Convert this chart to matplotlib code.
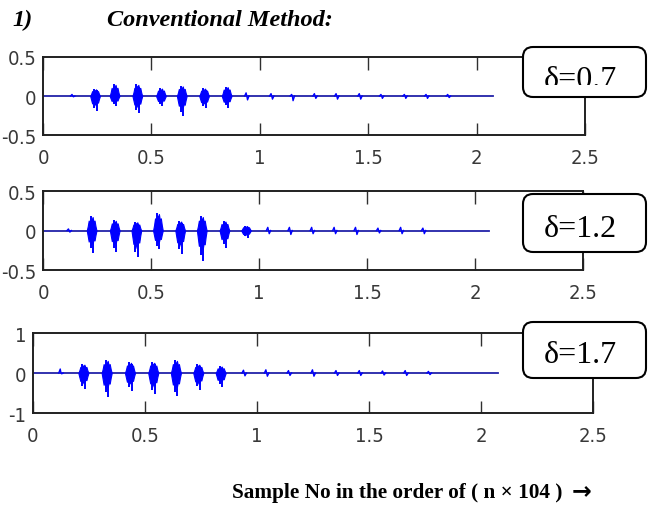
import matplotlib
matplotlib.use("Agg")
import matplotlib.pyplot as plt
import numpy as np
from matplotlib import font_manager
from matplotlib.patches import FancyBboxPatch
from matplotlib.transforms import Bbox

# burst centres (x in units of 10^4 samples), positive and negative peaks
centers_1 = [0.137, 0.24, 0.33, 0.435, 0.544, 0.64, 0.743, 0.847, 0.94, 1.055, 1.15, 1.255,
             1.355, 1.462, 1.562, 1.67, 1.77, 1.87]
up_1 = [0.02, 0.09, 0.15, 0.15, 0.10, 0.13, 0.10, 0.12, 0.04, 0.03, 0.02, 0.03,
        0.03, 0.03, 0.02, 0.02, 0.02, 0.02]
down_1 = [-0.01, -0.19, -0.13, -0.22, -0.13, -0.25, -0.16, -0.15, -0.05, -0.04, -0.06, -0.03,
          -0.04, -0.04, -0.03, -0.03, -0.03, -0.02]

centers_2 = [0.121, 0.225, 0.332, 0.432, 0.532, 0.635, 0.735, 0.84, 0.94, 1.044, 1.144, 1.247,
             1.351, 1.45, 1.554, 1.659, 1.762]
up_2 = [0.02, 0.18, 0.13, 0.11, 0.22, 0.12, 0.18, 0.12, 0.06, 0.04, 0.04, 0.04,
        0.04, 0.04, 0.03, 0.04, 0.03]
down_2 = [-0.02, -0.28, -0.27, -0.34, -0.24, -0.30, -0.39, -0.22, -0.09, -0.04, -0.05, -0.04,
          -0.04, -0.05, -0.03, -0.04, -0.04]

centers_3 = [0.125, 0.225, 0.329, 0.433, 0.537, 0.638, 0.738, 0.838, 0.943, 1.043, 1.144, 1.251,
             1.356, 1.46, 1.564, 1.665, 1.769]
up_3 = [0.10, 0.22, 0.32, 0.27, 0.27, 0.32, 0.22, 0.17, 0.07, 0.08, 0.06, 0.08,
        0.06, 0.06, 0.05, 0.06, 0.04]
down_3 = [-0.02, -0.40, -0.59, -0.44, -0.52, -0.58, -0.42, -0.35, -0.07, -0.08, -0.06, -0.08,
          -0.06, -0.06, -0.05, -0.06, -0.04]

signal_end = [2.077, 2.065, 2.074]
delta_labels = ["δ=0.7", "δ=1.2", "δ=1.7"]
y_limits = [(-0.5, 0.5), (-0.5, 0.5), (-1, 1)]
y_ticks = [[-0.5, 0, 0.5], [-0.5, 0, 0.5], [-1, 0, 1]]
y_ticklabels = [["-0.5", "0", "0.5"], ["-0.5", "0", "0.5"], ["-1", "0", "1"]]
x_ticks = [0, 0.5, 1, 1.5, 2, 2.5]
x_ticklabels = ["0", "0.5", "1", "1.5", "2", "2.5"]

BURST = "#0000ff"
BASE = "#2222a8"
SERIF = ["Liberation Serif", "DejaVu Serif"]

# jagged outline of one burst (relative offsets / fractions of the peak)
SHAPE_X = np.array([-0.5, -0.4, -0.3, -0.2, -0.1, 0.0, 0.1, 0.2, 0.3, 0.4, 0.5])
SHAPE_TOP = np.array([0, 0.3, 0.7, 0.5, 0.9, 0.75, 0.95, 0.6, 0.7, 0.3, 0])
SHAPE_BOT = np.array([0, 0.25, 0.5, 0.35, 0.65, 0.5, 0.6, 0.4, 0.45, 0.2, 0])

# MATLAB-like narrow tick font: use a condensed face if one is installed
names = {f.name for f in font_manager.fontManager.ttflist}
condensed = [f for f in font_manager.fontManager.ttflist
             if f.name == "DejaVu Sans" and f.stretch in ("condensed", "semi-condensed", 600, 500)
             and f.weight in ("normal", 400) and f.style == "normal"]
if "Liberation Sans Narrow" in names:
    TICK_PROPS = font_manager.FontProperties(family="Liberation Sans Narrow", size=15.5)
elif condensed:
    TICK_PROPS = font_manager.FontProperties(fname=condensed[0].fname, size=14.5)
else:
    TICK_PROPS = font_manager.FontProperties(family="Liberation Sans", size=14.5)


def draw_burst(ax, c, up, down, span):
    if (up - down) / span < 0.12:
        w = 0.02
        ax.plot([c - w / 2, c - w / 6, c, c + w / 6, c + w / 2], [0, up, 0, down, 0],
                color=BURST, lw=1.0, zorder=3)
        return
    w = 0.045
    ax.fill_between(c + w * SHAPE_X, down * SHAPE_BOT, up * SHAPE_TOP,
                    color=BURST, lw=0.8, edgecolor=BURST, zorder=3)
    ax.vlines([c - 0.004], down * 0.8, up, color=BURST, lw=1.4, zorder=3)
    ax.vlines([c + 0.007], down, up * 0.8, color=BURST, lw=1.4, zorder=3)


fig = plt.figure(figsize=(6.48, 5.06), dpi=100)

# axes rectangles in figure fraction, taken from the reference layout
rects = [
    [0.0664, 0.7312, 0.8364, 0.1542],
    [0.0664, 0.4644, 0.8333, 0.1561],
    [0.0509, 0.1818, 0.8642, 0.1581],
]
panels = [(centers_1, up_1, down_1), (centers_2, up_2, down_2), (centers_3, up_3, down_3)]

for i, (rect, (cs, ups, downs)) in enumerate(zip(rects, panels)):
    ax = fig.add_axes(rect)
    lo, hi = y_limits[i]
    ax.plot([0, signal_end[i]], [0, 0], color=BASE, lw=1.3, zorder=2)
    for c, u, d in zip(cs, ups, downs):
        draw_burst(ax, c, u, d, hi - lo)
    ax.set_xlim(0, 2.5)
    ax.set_ylim(lo, hi)
    ax.set_xticks(x_ticks)
    ax.set_xticklabels(x_ticklabels)
    ax.set_yticks(y_ticks[i])
    ax.set_yticklabels(y_ticklabels[i])
    ax.tick_params(axis="x", direction="in", top=True, bottom=True, length=9, width=1.0,
                   color="#303030", pad=9)
    ax.tick_params(axis="y", length=0, pad=5)
    for lab in ax.get_xticklabels() + ax.get_yticklabels():
        lab.set_fontproperties(TICK_PROPS)
        lab.set_color("#383838")
    for sp in ax.spines.values():
        sp.set_linewidth(1.4)
        sp.set_color("#202020")

# rounded label boxes (inches, from bottom-left)
boxes = [(5.23, 4.08, 1.23, 0.50), (5.23, 2.53, 1.23, 0.58), (5.23, 1.27, 1.23, 0.56)]
baselines = [4.18, 2.69, 1.43]
for i, (bx, by, bw, bh) in enumerate(boxes):
    box = FancyBboxPatch((bx, by), bw, bh, boxstyle="round,pad=0,rounding_size=0.1",
                         transform=fig.dpi_scale_trans, facecolor="white", edgecolor="black",
                         lw=1.5, zorder=10)
    fig.add_artist(box)
    t = fig.text(bx + 0.21, baselines[i], delta_labels[i], transform=fig.dpi_scale_trans,
                 fontsize=23, family=SERIF, va="baseline", ha="left", zorder=11)
    if i == 0:
        # the reference cuts the first label off just above its baseline
        t.set_clip_box(Bbox.from_extents(bx * 100, 4.20 * 100, (bx + bw) * 100, (by + bh) * 100))
        t.set_clip_on(True)

fig.text(12 / 648, 1 - 26.5 / 506, "1)", fontsize=17.5, family=SERIF, weight="bold",
         style="italic", va="baseline", ha="left")
fig.text(107 / 648, 1 - 26.5 / 506, "Conventional Method:", fontsize=17.5, family=SERIF,
         weight="bold", style="italic", va="baseline", ha="left")
fig.text(232 / 648, 1 - 498 / 506, "Sample No in the order of ( n × 104 )", fontsize=15.3,
         family=SERIF, weight="bold", va="baseline", ha="left")
fig.text(572 / 648, 1 - 498 / 506, "→", fontsize=17, family="DejaVu Sans", weight="bold",
         va="baseline", ha="left")

fig.savefig("out.png", dpi=100)
